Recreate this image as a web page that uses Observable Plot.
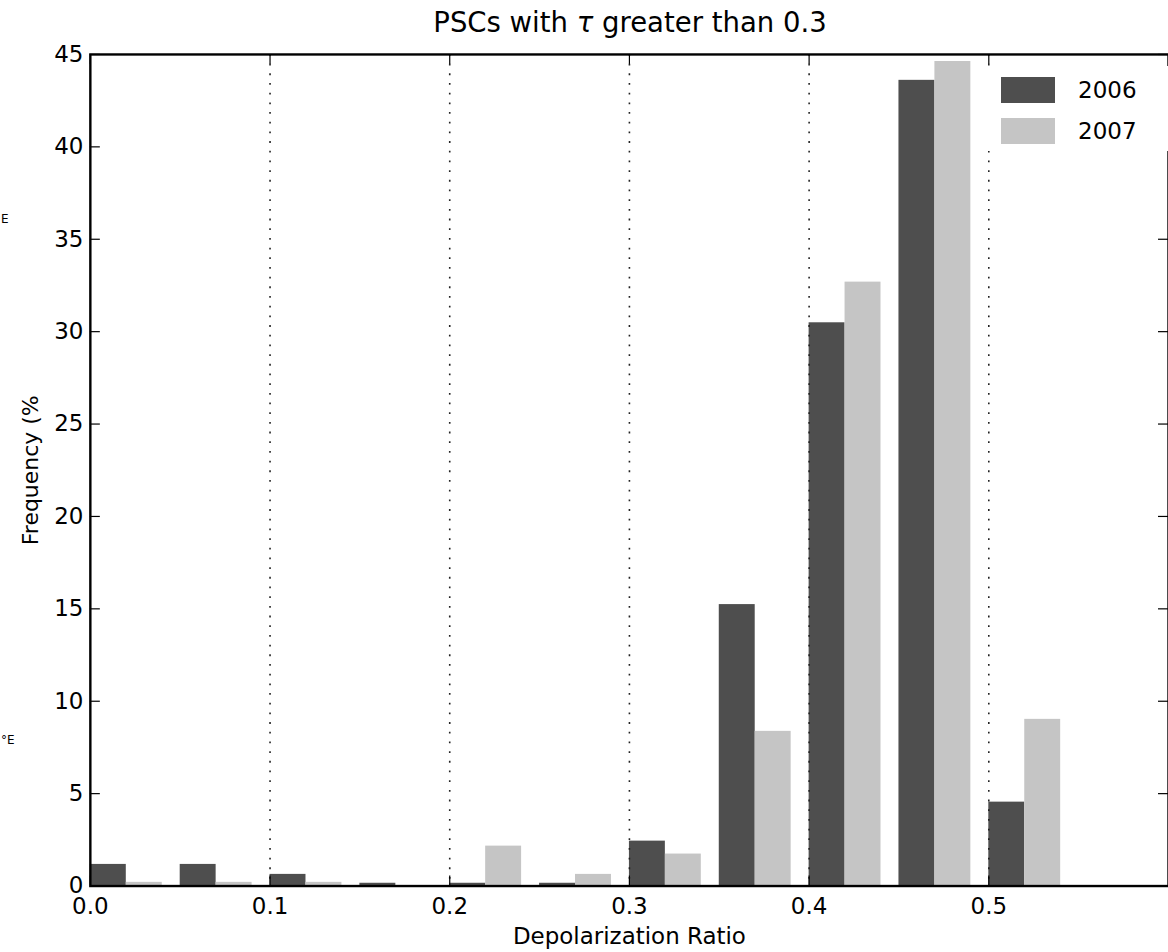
<!DOCTYPE html>
<html>
<head>
<meta charset="utf-8">
<script src="https://cdn.jsdelivr.net/npm/d3@7"></script>
<script src="https://cdn.jsdelivr.net/npm/@observablehq/plot@0.6"></script>
<style>
  html, body { margin: 0; padding: 0; background: #fff; }
  body { font-family: "DejaVu Sans", sans-serif; color: #000; }
  #wrap { position: relative; width: 1168px; height: 952px; overflow: hidden; background: #fff; }
  #title { position: absolute; z-index: 2; left: 90px; width: 1080px; top: 2px; height: 40px; line-height: 40px; text-align: center; font-size: 27.5px; }
  #chart { position: absolute; z-index: 1; left: 0; top: 34px; }
  #legend { position: absolute; z-index: 3; left: 985px; top: 66px; width: 190px; height: 85px; background: #fff; }
  .lg-row { position: absolute; left: 16px; height: 26px; }
  .lg-sw { position: absolute; left: 0; top: 0; width: 54px; height: 26px; }
  .lg-tx { position: absolute; left: 77px; top: 0; line-height: 26px; font-size: 23px; white-space: nowrap; }
  .edge { position: absolute; z-index: 3; font-size: 12px; white-space: nowrap; }
</style>
</head>
<body>
<div id="wrap">
  <div id="chart"></div>
  <div id="title">PSCs with <i>τ</i> greater than 0.3</div>
  <div id="legend"></div>
  <div class="edge" style="left:1px; top:212px;">E</div>
  <div class="edge" style="left:1px; top:733px;">°E</div>
</div>
<script>
// ---- data ----
const binStarts = [0.00, 0.05, 0.10, 0.15, 0.20, 0.25, 0.30, 0.35, 0.40, 0.45, 0.50];
const freq2006  = [1.17, 1.17, 0.63, 0.15, 0.15, 0.15, 2.43, 15.23, 30.48, 43.60, 4.54];
const freq2007  = [0.20, 0.20, 0.20, 0.00, 2.16, 0.63, 1.73, 8.37, 32.68, 44.62, 9.02];
const seriesNames  = ["2006", "2007"];
const seriesColors = ["#4e4e4e", "#c5c5c5"];
const barWidth = 0.02;
const xTicks = [0.0, 0.1, 0.2, 0.3, 0.4, 0.5];
const gridTicks = [0.1, 0.2, 0.3, 0.4, 0.5];
const yTicks = [0, 5, 10, 15, 20, 25, 30, 35, 40, 45];
const xLabel = "Depolarization Ratio";
const yLabel = "Frequency (%";

const seriesValues = [freq2006, freq2007];
const rows = [];
seriesNames.forEach((name, si) => {
  binStarts.forEach((b, i) => {
    rows.push({year: name, x1: b + si * barWidth, x2: b + (si + 1) * barWidth, value: seriesValues[si][i]});
  });
});

const W = 1170, H = 918, mL = 90, mR = 0, mT = 20, mB = 65;
const plotW = W - mL - mR, plotH = H - mT - mB, tickLen = 10;

const chart = Plot.plot({
  width: W,
  height: H,
  marginLeft: mL,
  marginRight: mR,
  marginTop: mT,
  marginBottom: mB,
  style: {fontFamily: "DejaVu Sans, sans-serif", fontSize: "23px", color: "#000", background: "#fff"},
  x: {domain: [0, 0.6], ticks: xTicks, tickSize: 0, tickPadding: 12, tickFormat: d3.format(".1f"), label: null},
  y: {domain: [0, 45], ticks: yTicks, tickSize: 0, tickPadding: 7, label: null},
  color: {domain: seriesNames, range: seriesColors},
  marks: [
    Plot.rectY(rows, {x1: "x1", x2: "x2", y1: 0, y2: "value", fill: "year"}),
    Plot.ruleX(gridTicks, {stroke: "#222", strokeWidth: 1.6, strokeDasharray: "1.8,7.9"}),
    Plot.ruleY(yTicks, {stroke: "#000", strokeWidth: 1.2, insetRight: plotW - tickLen}),
    Plot.ruleY(yTicks, {stroke: "#000", strokeWidth: 1.2, insetLeft: plotW - tickLen}),
    Plot.ruleX(xTicks, {stroke: "#000", strokeWidth: 1.2, insetTop: plotH - tickLen}),
    Plot.ruleX(xTicks, {stroke: "#000", strokeWidth: 1.2, insetBottom: plotH - tickLen}),
    Plot.frame({stroke: "#000", strokeWidth: 2.4}),
    Plot.text([xLabel], {frameAnchor: "bottom", dy: 51, fontSize: 23, lineAnchor: "middle", textAnchor: "middle"}),
    Plot.text([yLabel], {frameAnchor: "left", dx: -59, rotate: -90, fontSize: 22, lineAnchor: "middle", textAnchor: "middle"})
  ]
});
document.getElementById("chart").appendChild(chart);

const legend = document.getElementById("legend");
seriesNames.forEach((name, i) => {
  const row = document.createElement("div");
  row.className = "lg-row";
  row.style.top = (11 + i * 41) + "px";
  row.innerHTML = `<div class="lg-sw" style="background:${seriesColors[i]}"></div><div class="lg-tx">${name}</div>`;
  legend.appendChild(row);
});
</script>
</body>
</html>
